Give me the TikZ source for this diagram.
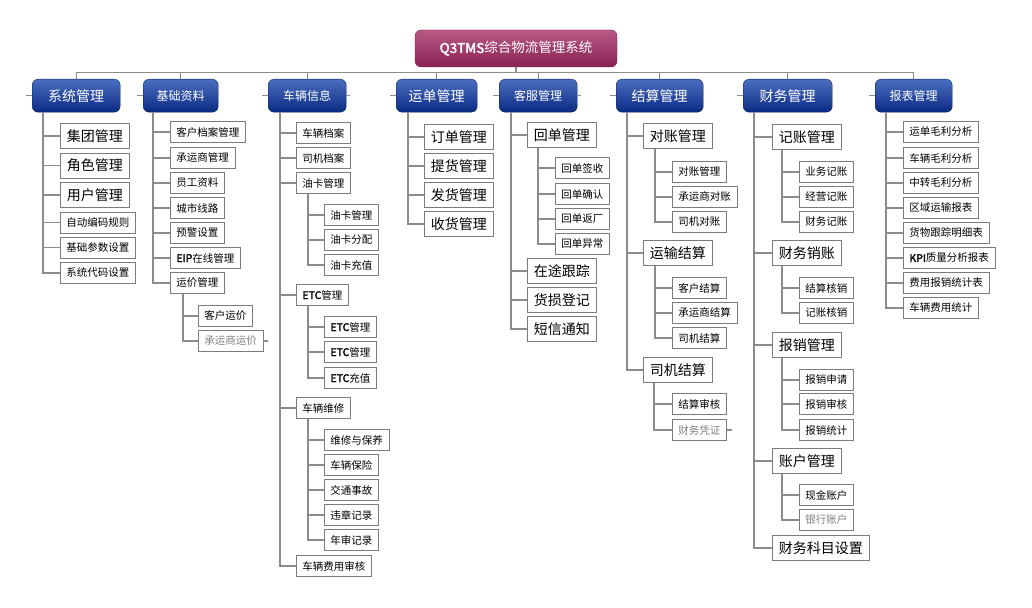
\documentclass[tikz,border=0pt]{standalone}
\usepackage{fontspec}
\setmainfont{Noto Sans CJK SC}[AutoFakeBold=2.5]
\definecolor{hdtop}{HTML}{4C6EC0}
\definecolor{hdbot}{HTML}{0A2A82}
\definecolor{rttop}{HTML}{B85A86}
\definecolor{rtbot}{HTML}{8A2154}
\definecolor{lnk}{HTML}{8C8C8C}
\definecolor{bdr}{HTML}{7C7C7C}
\tikzset{
  link/.style={draw=lnk, line width=1.2pt},
  root/.style={rounded corners=6pt, draw=rtbot!85!black, top color=rttop, bottom color=rtbot,
    text=white, minimum width=202pt, minimum height=37pt, inner sep=0pt,
    font=\fontsize{13.5pt}{15pt}\selectfont},
  hdr/.style={rounded corners=6pt, draw=hdbot!80!black, top color=hdtop, bottom color=hdbot,
    text=white, minimum height=33pt, inner sep=0pt, anchor=north west},
  hbig/.style={hdr, minimum width=88pt, font=\fontsize{14pt}{16pt}\selectfont},
  hsml/.style={hdr, minimum width=77pt, font=\fontsize{12pt}{14pt}\selectfont},
  leaf/.style={draw=bdr, line width=0.9pt, fill=white, anchor=west, inner ysep=0pt},
  big/.style={leaf, minimum height=25pt, inner xsep=6.5pt, font=\fontsize{14pt}{16pt}\selectfont},
  sml/.style={leaf, minimum height=21pt, inner xsep=6pt, font=\fontsize{10.5pt}{12pt}\selectfont},
  dim/.style={text=gray}
}
\begin{document}
\begin{tikzpicture}[x=1pt, y=-1pt]
\fill[white] (0,0) rectangle (1032,607);
\useasboundingbox (0,0) rectangle (1032,607);

\node[root] (root) at (516,48.5) {\textbf{Q3TMS}综合物流管理系统};

% top row
\node[hbig] (sys) at (32,79) {系统管理};
\node[hsml, minimum width=75pt] (base) at (143,79) {基础资料};
\node[hsml, minimum width=78pt] (veh) at (268,79) {车辆信息};
\node[hbig, minimum width=81pt] (ord) at (396,79) {运单管理};
\node[hsml, minimum width=78pt] (svc) at (499,79) {客服管理};
\node[hbig, minimum width=87pt] (stl) at (616,79) {结算管理};
\node[hbig, minimum width=89pt] (fin) at (743,79) {财务管理};
\node[hsml] (rpt) at (875,79) {报表管理};

\draw[link] (root.south) -- ++(0,5) coordinate (bus);
\foreach \h in {sys,base,veh,ord,svc,stl,fin,rpt}
  \draw[link] (\h.north) |- (bus);
\foreach \h in {sys,base,veh,ord,svc,stl,fin,rpt}
  \draw[link] (\h.west) -- ++(-6,0);
\draw[link] (veh.east) -- ++(4,0);
\draw[link] (svc.east) -- ++(4,0);

% 系统管理
\foreach \n/\y/\t in {s1/136/集团管理, s2/165.5/角色管理, s3/195/用户管理}
  \node[big] (\n) at (60,\y) {\t};
\foreach \n/\y/\t in {s4/222.5/自动编码规则, s5/247.5/基础参数设置, s6/273/系统代码设置}
  \node[sml] (\n) at (60,\y) {\t};
\foreach \n in {s1,s2,s3,s4,s5,s6}
  \draw[link] ([xshift=11pt]sys.south west) |- (\n.west);

% 基础资料
\foreach \n/\y/\t in {b1/132/客户档案管理, b2/158/承运商管理, b3/183/员工资料, b4/208/城市线路,
    b5/233/预警设置, b6/258/\textbf{EIP}在线管理, b7/283/运价管理}
  \node[sml] (\n) at (170,\y) {\t};
\node[sml] (b7a) at (198,316) {客户运价};
\node[sml, dim] (b7b) at (198,341) {承运商运价};
\foreach \n in {b1,b2,b3,b4,b5,b6,b7}
  \draw[link] ([xshift=10pt]base.south west) |- (\n.west);
\foreach \n in {b7a,b7b}
  \draw[link] ([xshift=13pt]b7.south west) |- (\n.west);
\draw[link] (b7b.east) -- ++(5,0);

% 车辆信息
\foreach \n/\y/\t in {v1/133/车辆档案, v2/158/司机档案, v3/183/油卡管理, v4/295/\textbf{ETC}管理,
    v5/408/车辆维修, v6/566/车辆费用审核}
  \node[sml] (\n) at (296,\y) {\t};
\foreach \n/\y/\t in {v3a/215/油卡管理, v3b/240/油卡分配, v3c/265/油卡充值,
    v4a/327/\textbf{ETC}管理, v4b/352/\textbf{ETC}管理, v4c/378/\textbf{ETC}充值,
    v5a/440/维修与保养, v5b/465/车辆保险, v5c/490/交通事故, v5d/515/违章记录, v5e/540/年审记录}
  \node[sml] (\n) at (324,\y) {\t};
\foreach \n in {v1,v2,v3,v4,v5,v6}
  \draw[link] ([xshift=12pt]veh.south west) |- (\n.west);
\foreach \n in {v3a,v3b,v3c}
  \draw[link] ([xshift=12pt]v3.south west) |- (\n.west);
\foreach \n in {v4a,v4b,v4c}
  \draw[link] ([xshift=12pt]v4.south west) |- (\n.west);
\foreach \n in {v5a,v5b,v5c,v5d,v5e}
  \draw[link] ([xshift=12pt]v5.south west) |- (\n.west);

% 运单管理
\foreach \n/\y/\t in {o1/137/订单管理, o2/166/提货管理, o3/195/发货管理, o4/224/收货管理}
  \node[big] (\n) at (424,\y) {\t};
\foreach \n in {o1,o2,o3,o4}
  \draw[link] ([xshift=12pt]ord.south west) |- (\n.west);

% 客服管理
\foreach \n/\y/\t in {c1/135/回单管理, c2/271/在途跟踪, c3/300/货损登记, c4/329/短信通知}
  \node[big] (\n) at (527,\y) {\t};
\foreach \n/\y/\t in {c1a/168/回单签收, c1b/194/回单确认, c1c/219/回单返厂, c1d/244/回单异常}
  \node[sml] (\n) at (555,\y) {\t};
\foreach \n in {c1,c2,c3,c4}
  \draw[link] ([xshift=12pt]svc.south west) |- (\n.west);
\foreach \n in {c1a,c1b,c1c,c1d}
  \draw[link] ([xshift=11pt]c1.south west) |- (\n.west);

% 结算管理
\foreach \n/\y/\t in {j1/136/对账管理, j2/253/运输结算, j3/370/司机结算}
  \node[big] (\n) at (643,\y) {\t};
\foreach \n/\y/\t in {j1a/172/对账管理, j1b/197/承运商对账, j1c/222/司机对账,
    j2a/288/客户结算, j2b/313/承运商结算, j2c/338/司机结算, j3a/404/结算审核}
  \node[sml] (\n) at (672,\y) {\t};
\node[sml, dim] (j3b) at (672,430) {财务凭证};
\foreach \n in {j1,j2,j3}
  \draw[link] ([xshift=11pt]stl.south west) |- (\n.west);
\foreach \n in {j1a,j1b,j1c}
  \draw[link] ([xshift=12pt]j1.south west) |- (\n.west);
\foreach \n in {j2a,j2b,j2c}
  \draw[link] ([xshift=12pt]j2.south west) |- (\n.west);
\foreach \n in {j3a,j3b}
  \draw[link] ([xshift=11pt]j3.south west) |- (\n.west);
\draw[link] (j3b.east) -- ++(5,0);

% 财务管理
\foreach \n/\y/\t in {f1/137/记账管理, f2/253/财务销账, f3/345/报销管理, f4/461/账户管理, f5/548/财务科目设置}
  \node[big] (\n) at (772,\y) {\t};
\foreach \n/\y/\t in {f1a/172/业务记账, f1b/197/经营记账, f1c/222/财务记账, f2a/288/结算核销,
    f2b/313/记账核销, f3a/380/报销申请, f3b/404/报销审核, f3c/430/报销统计, f4a/495/现金账户}
  \node[sml] (\n) at (799,\y) {\t};
\node[sml, dim] (f4b) at (799,520) {银行账户};
\foreach \n in {f1,f2,f3,f4,f5}
  \draw[link] ([xshift=11pt]fin.south west) |- (\n.west);
\foreach \n in {f1a,f1b,f1c}
  \draw[link] ([xshift=10pt]f1.south west) |- (\n.west);
\foreach \n in {f2a,f2b}
  \draw[link] ([xshift=10pt]f2.south west) |- (\n.west);
\foreach \n in {f3a,f3b,f3c}
  \draw[link] ([xshift=10pt]f3.south west) |- (\n.west);
\foreach \n in {f4a,f4b}
  \draw[link] ([xshift=10pt]f4.south west) |- (\n.west);

% 报表管理
\foreach \n/\y/\t in {r1/132/运单毛利分析, r2/158/车辆毛利分析, r3/183/中转毛利分析, r4/208/区域运输报表,
    r5/233/货物跟踪明细表, r6/258/\textbf{KPI}质量分析报表, r7/283/费用报销统计表, r8/308/车辆费用统计}
  \node[sml] (\n) at (903,\y) {\t};
\foreach \n in {r1,r2,r3,r4,r5,r6,r7,r8}
  \draw[link] ([xshift=11pt]rpt.south west) |- (\n.west);
\end{tikzpicture}
\end{document}
